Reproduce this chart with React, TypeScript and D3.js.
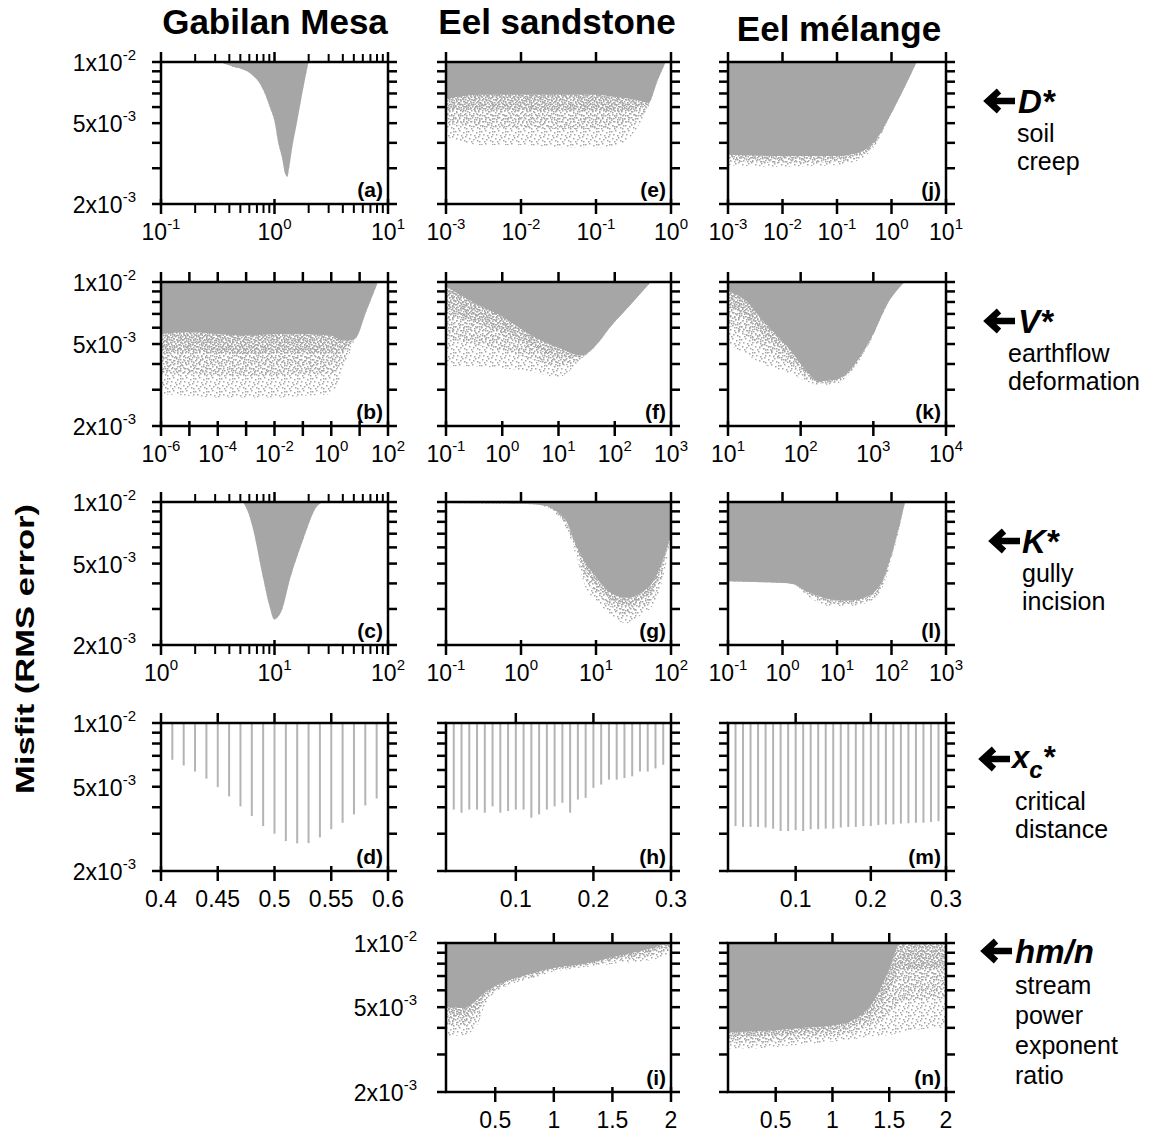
import React from "react";
import * as d3 from "d3";

const FONT = "'Liberation Sans', Arial, Helvetica, sans-serif";
const GRAY = "#a6a6a6";
const LINE_GRAY = "#b4b4b4";

// shared misfit (RMS error) axis
const misfitDomain: [number, number] = [2e-3, 1e-2];
const misfitTicks = [2e-3, 3e-3, 4e-3, 5e-3, 6e-3, 7e-3, 8e-3, 9e-3, 1e-2];
const misfitLabelValues = [1e-2, 5e-3, 2e-3];
const misfitLabelMantissa = ["1", "5", "2"];
const misfitLabelExponent = ["-2", "-3", "-3"];

const siteNames = ["Gabilan Mesa", "Eel sandstone", "Eel mélange"];
const paramNames = ["D*", "V*", "K*", "xc*", "hm/n"];
const paramDescriptions = [
  ["soil", "creep"],
  ["earthflow", "deformation"],
  ["gully", "incision"],
  ["critical", "distance"],
  ["stream", "power", "exponent", "ratio"],
];

// (a) Gabilan Mesa, D*
const aX = [0.33, 0.43, 0.61, 0.795, 0.91, 1.01, 1.07, 1.16, 1.24, 1.29, 1.35, 1.42, 1.57, 1.78, 1.99];
const aMisfit = [1e-2, 9.5e-3, 8.8e-3, 7.3e-3, 6.0e-3, 4.98e-3, 4.1e-3, 3.42e-3, 2.83e-3, 2.72e-3, 3.05e-3, 3.68e-3, 4.98e-3, 7.3e-3, 1e-2];
// (b) Gabilan Mesa, V*
const bX = [1e-6, 1e-5, 1e-4, 1e-3, 1e-2, 1e-1, 0.9, 2.6, 6.8, 17.8, 44];
const bDense = [5.6e-3, 5.7e-3, 5.6e-3, 5.5e-3, 5.6e-3, 5.6e-3, 5.5e-3, 5.2e-3, 5.3e-3, 7.3e-3, 1e-2];
const bSparse = [2.85e-3, 2.8e-3, 2.75e-3, 2.75e-3, 2.75e-3, 2.8e-3, 2.85e-3, 3.7e-3, 5.3e-3, 7.3e-3, 1e-2];
// (c) Gabilan Mesa, K*
const cX = [5.3, 5.9, 6.5, 7.9, 9.1, 9.9, 11.6, 13.7, 17.8, 23.6, 26.7];
const cMisfit = [1e-2, 8.8e-3, 7.3e-3, 4.3e-3, 3.06e-3, 2.67e-3, 2.96e-3, 4.2e-3, 6.5e-3, 9.5e-3, 1e-2];
// (d) Gabilan Mesa, xc*
const dX = [0.41, 0.42, 0.43, 0.44, 0.45, 0.46, 0.47, 0.48, 0.49, 0.5, 0.51, 0.52, 0.53, 0.54, 0.55, 0.56, 0.57, 0.58, 0.59];
const dMin = [6.7e-3, 6.3e-3, 5.9e-3, 5.46e-3, 4.98e-3, 4.5e-3, 4.04e-3, 3.64e-3, 3.26e-3, 3.0e-3, 2.77e-3, 2.7e-3, 2.71e-3, 2.88e-3, 3.15e-3, 3.38e-3, 3.7e-3, 4.08e-3, 4.4e-3];
// (e) Eel sandstone, D*
const eX = [1e-3, 3e-3, 1e-2, 3e-2, 0.1, 0.2, 0.35, 0.5, 0.67, 0.85];
const eDense = [6.6e-3, 6.9e-3, 6.9e-3, 6.9e-3, 6.9e-3, 6.7e-3, 6.5e-3, 6.3e-3, 8.2e-3, 1e-2];
const eSparse = [4.3e-3, 3.9e-3, 3.9e-3, 3.8e-3, 3.8e-3, 3.9e-3, 4.7e-3, 6.0e-3, 8.2e-3, 1e-2];
// (f) Eel sandstone, V*
const fX = [0.1, 0.3, 1, 3, 10, 25, 105, 437];
const fDense = [9.5e-3, 8.0e-3, 6.8e-3, 5.6e-3, 4.8e-3, 4.4e-3, 6.5e-3, 1e-2];
const fSparse = [3.9e-3, 3.9e-3, 3.8e-3, 3.7e-3, 3.45e-3, 4.2e-3, 6.5e-3, 1e-2];
// (g) Eel sandstone, K*
const gX = [0.1, 1, 1.8, 3.9, 5.3, 7.3, 10, 15.8, 25, 40, 63, 100];
const gDense = [9.9e-3, 9.8e-3, 9.7e-3, 8.2e-3, 6.3e-3, 5.0e-3, 4.3e-3, 3.6e-3, 3.4e-3, 3.6e-3, 4.3e-3, 7.0e-3];
const gSparse = [9.9e-3, 9.8e-3, 9.6e-3, 7.6e-3, 5.6e-3, 3.8e-3, 3.3e-3, 2.8e-3, 2.55e-3, 2.8e-3, 3.3e-3, 6.5e-3];
// (h) Eel sandstone, xc*
const hX = [0.02, 0.03, 0.04, 0.05, 0.06, 0.07, 0.08, 0.09, 0.1, 0.11, 0.12, 0.13, 0.14, 0.15, 0.16, 0.17, 0.18, 0.19, 0.2, 0.21, 0.22, 0.23, 0.24, 0.25, 0.26, 0.27, 0.28, 0.29];
const hMin = [3.9e-3, 3.77e-3, 3.9e-3, 3.9e-3, 3.77e-3, 4.04e-3, 3.77e-3, 3.84e-3, 3.9e-3, 3.9e-3, 3.57e-3, 3.7e-3, 3.9e-3, 4.04e-3, 4.2e-3, 3.77e-3, 4.35e-3, 4.43e-3, 4.94e-3, 5.12e-3, 5.4e-3, 5.4e-3, 5.5e-3, 5.6e-3, 5.9e-3, 5.9e-3, 6.1e-3, 6.35e-3];
// (i) Eel sandstone, hm/n
const iX = [0.08, 0.23, 0.34, 0.42, 0.59, 0.81, 0.98, 1.26, 1.51, 1.82, 1.93, 2.0];
const iDense = [5.05e-3, 4.95e-3, 5.4e-3, 5.9e-3, 6.6e-3, 7.2e-3, 7.6e-3, 8.0e-3, 8.6e-3, 9.4e-3, 9.8e-3, 1e-2];
const iSparse = [3.65e-3, 3.7e-3, 4.06e-3, 5.2e-3, 6.25e-3, 6.8e-3, 7.3e-3, 7.7e-3, 8.0e-3, 8.3e-3, 8.6e-3, 8.9e-3];
// (j) Eel melange, D*
const jX = [1e-3, 1e-2, 0.1, 0.26, 0.54, 0.93, 1.65, 2.9];
const jDense = [3.5e-3, 3.45e-3, 3.45e-3, 3.6e-3, 4.2e-3, 5.4e-3, 7.3e-3, 1e-2];
const jSparse = [3.1e-3, 3.05e-3, 3.1e-3, 3.3e-3, 4.0e-3, 5.4e-3, 7.3e-3, 1e-2];
// (k) Eel melange, V*
const kX = [10, 17, 30, 71, 120, 177, 300, 477, 898, 1690, 2700];
const kDense = [9.0e-3, 8.2e-3, 6.5e-3, 4.7e-3, 3.7e-3, 3.3e-3, 3.35e-3, 3.74e-3, 5.2e-3, 8.2e-3, 1e-2];
const kSparse = [5.0e-3, 4.5e-3, 4.0e-3, 3.6e-3, 3.3e-3, 3.16e-3, 3.2e-3, 3.6e-3, 5.1e-3, 8.2e-3, 1e-2];
// (l) Eel melange, K*
const lX = [0.1, 0.5, 1.4, 3.2, 7.4, 17, 40, 76, 115, 178];
const lDense = [4.1e-3, 4.05e-3, 4.0e-3, 3.6e-3, 3.35e-3, 3.3e-3, 3.5e-3, 4.4e-3, 6.3e-3, 1e-2];
const lSparse = [4.1e-3, 4.05e-3, 4.0e-3, 3.4e-3, 3.1e-3, 3.1e-3, 3.25e-3, 4.1e-3, 6.0e-3, 1e-2];
// (m) Eel melange, xc*
const mX = hX;
const mMin = [3.26e-3, 3.23e-3, 3.23e-3, 3.23e-3, 3.21e-3, 3.17e-3, 3.09e-3, 3.09e-3, 3.12e-3, 3.09e-3, 3.15e-3, 3.15e-3, 3.17e-3, 3.17e-3, 3.21e-3, 3.23e-3, 3.23e-3, 3.26e-3, 3.26e-3, 3.3e-3, 3.32e-3, 3.32e-3, 3.35e-3, 3.36e-3, 3.38e-3, 3.38e-3, 3.41e-3, 3.44e-3];
// (n) Eel melange, hm/n
const nX = [0.08, 0.3, 0.5, 0.75, 1.0, 1.2, 1.35, 1.5, 1.6, 1.8, 2.0];
const nDense = [3.8e-3, 3.85e-3, 3.9e-3, 4.0e-3, 4.1e-3, 4.4e-3, 5.2e-3, 7.5e-3, 1e-2, 1e-2, 1e-2];
const nSparse = [3.2e-3, 3.2e-3, 3.25e-3, 3.35e-3, 3.45e-3, 3.55e-3, 3.65e-3, 3.7e-3, 3.8e-3, 3.95e-3, 4.0e-3];

// x-axis ticks
const dec = (a: number, b: number) => d3.range(a, b + 1).map((e) => Math.pow(10, e));
const xcTicks = [0.4, 0.45, 0.5, 0.55, 0.6];
const xcTickLabels = ["0.4", "0.45", "0.5", "0.55", "0.6"];
const xcEelTicks = [0.1, 0.2, 0.3];
const xcEelTickLabels = ["0.1", "0.2", "0.3"];
const hmnTicks = [0.5, 1, 1.5, 2];
const hmnTickLabels = ["0.5", "1", "1.5", "2"];

// layout
const colX = [[161, 388], [446, 671], [728, 946]];
const rowY = [[62, 204], [282, 426], [502, 645], [723, 871], [943, 1092]];
const yLabelGap = [25, 29, 29];

type Panel = {
  id: string; row: number; col: number;
  log: boolean; domain: [number, number];
  ticks: number[]; labels: string[]; minor?: boolean; yLabels?: boolean;
  x: number[]; dense?: number[]; sparse?: number[]; min?: number[];
};

const expLabels = (a: number, b: number, every = 1) =>
  d3.range(a, b + 1).map((e) => ((e - a) % every === 0 ? String(e) : ""));

const panels: Panel[] = [
  { id: "a", row: 0, col: 0, log: true, domain: [0.1, 10], ticks: dec(-1, 1), labels: expLabels(-1, 1), minor: true, yLabels: true, x: aX, dense: aMisfit, sparse: aMisfit },
  { id: "b", row: 1, col: 0, log: true, domain: [1e-6, 1e2], ticks: dec(-6, 2), labels: expLabels(-6, 2, 2), yLabels: true, x: bX, dense: bDense, sparse: bSparse },
  { id: "c", row: 2, col: 0, log: true, domain: [1, 100], ticks: dec(0, 2), labels: expLabels(0, 2), minor: true, yLabels: true, x: cX, dense: cMisfit, sparse: cMisfit },
  { id: "d", row: 3, col: 0, log: false, domain: [0.4, 0.6], ticks: xcTicks, labels: xcTickLabels, yLabels: true, x: dX, min: dMin },
  { id: "e", row: 0, col: 1, log: true, domain: [1e-3, 1], ticks: dec(-3, 0), labels: expLabels(-3, 0), x: eX, dense: eDense, sparse: eSparse },
  { id: "f", row: 1, col: 1, log: true, domain: [0.1, 1000], ticks: dec(-1, 3), labels: expLabels(-1, 3), x: fX, dense: fDense, sparse: fSparse },
  { id: "g", row: 2, col: 1, log: true, domain: [0.1, 100], ticks: dec(-1, 2), labels: expLabels(-1, 2), x: gX, dense: gDense, sparse: gSparse },
  { id: "h", row: 3, col: 1, log: false, domain: [0.01, 0.3], ticks: xcEelTicks, labels: xcEelTickLabels, x: hX, min: hMin },
  { id: "i", row: 4, col: 1, log: false, domain: [0.08, 2], ticks: hmnTicks, labels: hmnTickLabels, yLabels: true, x: iX, dense: iDense, sparse: iSparse },
  { id: "j", row: 0, col: 2, log: true, domain: [1e-3, 10], ticks: dec(-3, 1), labels: expLabels(-3, 1), x: jX, dense: jDense, sparse: jSparse },
  { id: "k", row: 1, col: 2, log: true, domain: [10, 1e4], ticks: dec(1, 4), labels: expLabels(1, 4), x: kX, dense: kDense, sparse: kSparse },
  { id: "l", row: 2, col: 2, log: true, domain: [0.1, 1000], ticks: dec(-1, 3), labels: expLabels(-1, 3), x: lX, dense: lDense, sparse: lSparse },
  { id: "m", row: 3, col: 2, log: false, domain: [0.01, 0.3], ticks: xcEelTicks, labels: xcEelTickLabels, x: mX, min: mMin },
  { id: "n", row: 4, col: 2, log: false, domain: [0.08, 2], ticks: hmnTicks, labels: hmnTickLabels, x: nX, dense: nDense, sparse: nSparse },
];

function minorTicks(lo: number, hi: number) {
  const out: number[] = [];
  for (let e = Math.floor(Math.log10(lo)); e < Math.ceil(Math.log10(hi)); e++) {
    for (let k = 2; k < 10; k++) {
      const v = k * Math.pow(10, e);
      if (v > lo && v < hi) out.push(v);
    }
  }
  return out;
}

function PanelView({ p }: { p: Panel }) {
  const [x0, x1] = colX[p.col];
  const [y0, y1] = rowY[p.row];
  const xs = p.log
    ? d3.scaleLog().domain(p.domain).range([x0, x1])
    : d3.scaleLinear().domain(p.domain).range([x0, x1]);
  const ys = d3.scaleLog().domain(misfitDomain).range([y1, y0]);
  const clipId = `clip-${p.id}`;
  const sw = 2.5;

  let marks: React.ReactNode = null;
  if (p.min) {
    marks = p.x.map((v, i) => (
      <line key={i} x1={xs(v)} x2={xs(v)} y1={y0} y2={ys(p.min![i])} stroke={LINE_GRAY} strokeWidth={2} />
    ));
  } else if (p.dense && p.sparse) {
    const pts = p.x.map((v, i) => ({ x: v, d: p.dense![i], s: p.sparse![i] }));
    const mix = (d: number, s: number, t: number) => Math.pow(d, 1 - t) * Math.pow(s, t);
    const curve = d3.curveMonotoneX;
    const solid = d3.area<any>().curve(curve).x((q) => xs(q.x)).y0(y0 - 3).y1((q) => ys(q.d));
    const band = (t: number) =>
      d3.area<any>().curve(curve).x((q) => xs(q.x)).y0((q) => ys(q.d) - 1).y1((q) => ys(mix(q.d, q.s, t)));
    marks = (
      <g>
        <path d={band(1)(pts) || ""} fill="url(#stipA)" />
        <path d={band(0.65)(pts) || ""} fill="url(#stipB)" />
        <path d={band(0.3)(pts) || ""} fill="url(#stipC)" />
        <path d={solid(pts) || ""} fill={GRAY} />
      </g>
    );
  }

  const minors = p.log && p.minor ? minorTicks(p.domain[0], p.domain[1]) : [];

  return (
    <g>
      <clipPath id={clipId}>
        <rect x={x0} y={y0} width={x1 - x0} height={y1 - y0} />
      </clipPath>
      <g clipPath={`url(#${clipId})`}>{marks}</g>
      {/* misfit ticks, both sides */}
      {misfitTicks.map((v, i) => (
        <g key={"y" + i} stroke="#000" strokeWidth={sw}>
          <line x1={x0 - 9} x2={x0} y1={ys(v)} y2={ys(v)} />
          <line x1={x1} x2={x1 + 9} y1={ys(v)} y2={ys(v)} />
        </g>
      ))}
      {/* x ticks, top and bottom */}
      {p.ticks.map((v, i) => (
        <g key={"x" + i} stroke="#000" strokeWidth={sw}>
          <line x1={xs(v)} x2={xs(v)} y1={y1 - 5} y2={y1 + 10} />
          <line x1={xs(v)} x2={xs(v)} y1={y0 - 10} y2={y0} />
        </g>
      ))}
      {minors.map((v, i) => (
        <g key={"m" + i} stroke="#000" strokeWidth={2}>
          <line x1={xs(v)} x2={xs(v)} y1={y1} y2={y1 + 9} />
          <line x1={xs(v)} x2={xs(v)} y1={y0 - 8} y2={y0} />
        </g>
      ))}
      <rect x={x0} y={y0} width={x1 - x0} height={y1 - y0} fill="none" stroke="#000" strokeWidth={sw} />
      {/* x tick labels */}
      {p.ticks.map((v, i) =>
        p.labels[i] === "" ? null : p.log ? (
          <text key={"xl" + i} x={xs(v)} y={y1 + 36} textAnchor="middle" fontSize={23}>
            <tspan>10</tspan>
            <tspan dy={-11} fontSize={15}>{p.labels[i]}</tspan>
          </text>
        ) : (
          <text key={"xl" + i} x={xs(v)} y={y1 + 36} textAnchor="middle" fontSize={23}>
            {p.labels[i]}
          </text>
        )
      )}
      {p.yLabels &&
        misfitLabelValues.map((v, i) => (
          <text key={"yl" + i} x={x0 - yLabelGap[p.col]} y={ys(v) + 9} textAnchor="end" fontSize={23}>
            <tspan>{misfitLabelMantissa[i]}x10</tspan>
            <tspan dy={-11} fontSize={15}>{misfitLabelExponent[i]}</tspan>
          </text>
        ))}
      <text x={x1 - 5} y={y1 - 7} textAnchor="end" fontSize={21} fontWeight="bold">
        ({p.id})
      </text>
    </g>
  );
}

// right-hand parameter annotations
const annoArrowX = [985, 985, 990, 980, 982];
const annoArrowY = [101, 321, 541, 759, 951];
const annoNameX = [1018, 1018, 1022, 1012, 1015];
const annoDescX = [1017, 1008, 1022, 1015, 1015];
const annoDescY = [[142, 170], [362, 390], [582, 610], [810, 838], [994, 1024, 1054, 1084]];

function Arrow({ x, y }: { x: number; y: number }) {
  return (
    <path
      d={`M ${x + 30} ${y} H ${x + 5} M ${x + 14} ${y - 10} L ${x + 3} ${y} L ${x + 14} ${y + 10}`}
      fill="none" stroke="#000" strokeWidth={6.5} strokeLinejoin="miter" strokeLinecap="butt"
    />
  );
}

// stipple dot offsets (pattern tiles for the sparse edges of the point clouds)
const dotsA = [[0, 1], [4, 0], [8, 2], [11, 1], [2, 4], [6, 5], [10, 6], [1, 8], [5, 9], [9, 10], [3, 11], [7, 7], [11, 4], [11, 11]];
const dotsB = [[1, 0], [5, 1], [9, 0], [3, 3], [7, 4], [0, 5], [9, 5], [4, 7], [8, 8], [1, 9], [6, 9.5], [2, 7]];
const dotsC = [[0, 0], [3, 1], [5.5, 2], [1, 3], [4, 4], [2, 5.5], [5.5, 5.5]];

export default function App() {
  const pat = (id: string, size: number, dots: number[][]) => (
    <pattern id={id} width={size} height={size} patternUnits="userSpaceOnUse">
      {dots.map(([dx, dy], i) => (
        <rect key={i} x={dx} y={dy} width={1.5} height={1.5} fill={GRAY} />
      ))}
    </pattern>
  );
  return (
    <svg width={1163} height={1137} style={{ position: "absolute", left: 0, top: 0, background: "#fff" }} fontFamily={FONT}>
      <defs>
        {pat("stipA", 13, dotsA)}
        {pat("stipB", 11, dotsB)}
        {pat("stipC", 7, dotsC)}
      </defs>
      <rect x={0} y={0} width={1163} height={1137} fill="#fff" />

      <text x={275} y={34} textAnchor="middle" fontSize={35} fontWeight="bold">{siteNames[0]}</text>
      <text x={557} y={34} textAnchor="middle" fontSize={35} fontWeight="bold">{siteNames[1]}</text>
      <text x={839} y={41} textAnchor="middle" fontSize={35} fontWeight="bold">{siteNames[2]}</text>

      <text transform="translate(34,649) rotate(-90)" textAnchor="middle" fontSize={25} fontWeight="bold"
        textLength={290} lengthAdjust="spacingAndGlyphs">
        Misfit (RMS error)
      </text>

      {panels.map((p) => (
        <PanelView key={p.id} p={p} />
      ))}

      {paramNames.map((name, r) => (
        <g key={name}>
          <Arrow x={annoArrowX[r]} y={annoArrowY[r]} />
          {name === "xc*" ? (
            <text x={annoNameX[r]} y={annoArrowY[r] + 9} fontSize={31} fontWeight="bold" fontStyle="italic">
              <tspan>x</tspan>
              <tspan dy={10} fontSize={24}>c</tspan>
              <tspan dy={-10}>*</tspan>
            </text>
          ) : (
            <text x={annoNameX[r]} y={annoArrowY[r] + 12} fontSize={33} fontWeight="bold" fontStyle="italic">
              {name}
            </text>
          )}
          {paramDescriptions[r].map((line, k) => (
            <text key={k} x={annoDescX[r]} y={annoDescY[r][k]} fontSize={25}>
              {line}
            </text>
          ))}
        </g>
      ))}
    </svg>
  );
}
